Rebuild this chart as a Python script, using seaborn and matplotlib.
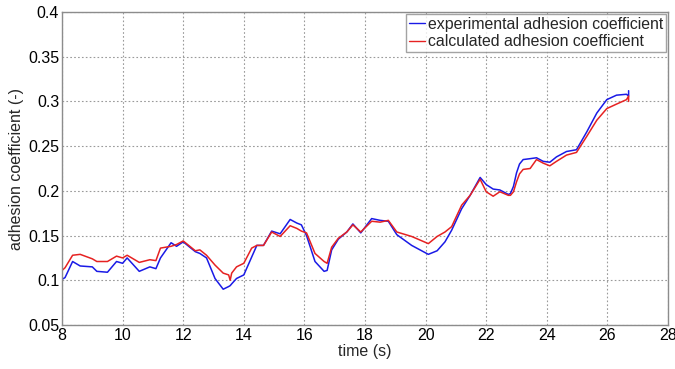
import numpy as np
import pandas as pd
import matplotlib
matplotlib.use("Agg")
import matplotlib.pyplot as plt
import seaborn as sns
from matplotlib.ticker import FuncFormatter

# Time samples (s)
time_s = [8.0, 8.1, 8.35, 8.6, 9.0, 9.15, 9.5, 9.8, 10.0, 10.15, 10.55, 10.9,
          11.1, 11.25, 11.6, 11.78, 12.0, 12.4, 12.55, 12.77, 13.05, 13.32,
          13.5, 13.55, 13.6, 13.76, 14.0, 14.26, 14.43, 14.65, 14.92, 15.2,
          15.53, 15.75, 15.9, 16.07, 16.35, 16.65, 16.75, 16.9, 17.12, 17.4,
          17.6, 17.86, 18.22, 18.5, 18.77, 19.05, 19.54, 20.09, 20.38, 20.64,
          20.86, 21.19, 21.47, 21.8, 22.0, 22.23, 22.45, 22.73, 22.8, 22.9,
          23.0, 23.1, 23.22, 23.45, 23.66, 23.88, 24.1, 24.32, 24.65, 24.98,
          25.32, 25.65, 25.98, 26.3, 26.63, 26.7, 26.7]

# Measured adhesion coefficient
experimental = [0.101, 0.103, 0.121, 0.116, 0.115, 0.110, 0.109, 0.121, 0.119,
                0.125, 0.110, 0.115, 0.113, 0.125, 0.142, 0.138, 0.143, 0.132,
                0.130, 0.125, 0.102, 0.090, 0.093, 0.094, 0.096, 0.102, 0.106,
                0.126, 0.139, 0.139, 0.155, 0.152, 0.168, 0.164, 0.162, 0.150,
                0.121, 0.110, 0.111, 0.134, 0.146, 0.154, 0.163, 0.153, 0.169,
                0.167, 0.166, 0.151, 0.139, 0.129, 0.133, 0.143, 0.156, 0.180,
                0.195, 0.215, 0.207, 0.202, 0.201, 0.196, 0.197, 0.205, 0.220,
                0.230, 0.235, 0.236, 0.237, 0.233, 0.232, 0.238, 0.244, 0.246,
                0.266, 0.287, 0.302, 0.307, 0.308, 0.306, 0.312]

# Model-calculated adhesion coefficient
calculated = [0.111, 0.114, 0.128, 0.129, 0.124, 0.121, 0.121, 0.127, 0.125,
              0.128, 0.120, 0.123, 0.122, 0.136, 0.138, 0.140, 0.144, 0.133,
              0.134, 0.128, 0.117, 0.108, 0.106, 0.100, 0.108, 0.115, 0.119,
              0.136, 0.139, 0.139, 0.154, 0.149, 0.161, 0.158, 0.155, 0.153,
              0.130, 0.121, 0.119, 0.137, 0.147, 0.154, 0.162, 0.154, 0.166,
              0.165, 0.167, 0.154, 0.149, 0.141, 0.149, 0.154, 0.160, 0.184,
              0.195, 0.213, 0.199, 0.194, 0.199, 0.195, 0.195, 0.199, 0.210,
              0.219, 0.224, 0.225, 0.235, 0.231, 0.228, 0.233, 0.240, 0.243,
              0.261, 0.279, 0.292, 0.297, 0.302, 0.306, 0.300]

series_names = ["experimental adhesion coefficient",
                "calculated adhesion coefficient"]
x_ticks = [8, 10, 12, 14, 16, 18, 20, 22, 24, 26, 28]
y_ticks = [0.05, 0.1, 0.15, 0.2, 0.25, 0.3, 0.35, 0.4]

df = pd.concat([
    pd.DataFrame({"time": time_s, "value": experimental, "series": series_names[0]}),
    pd.DataFrame({"time": time_s, "value": calculated, "series": series_names[1]}),
], ignore_index=True)

sns.set_theme(style="white")
plt.rcParams["font.family"] = ["Liberation Sans", "DejaVu Sans"]

fig = plt.figure(figsize=(6.75, 3.69), dpi=100)
ax = fig.add_axes([62 / 675, 1 - 325 / 369, 606 / 675, 313 / 369])

palette = {series_names[0]: "#1a1ae6", series_names[1]: "#e62222"}
sns.lineplot(data=df, x="time", y="value", hue="series", palette=palette,
             sort=False, estimator=None, linewidth=1.1, ax=ax, legend=False)

ax.set_xlim(8, 28)
ax.set_ylim(0.05, 0.4)
ax.set_xticks(x_ticks)
ax.set_yticks(y_ticks)
ax.yaxis.set_major_formatter(FuncFormatter(lambda v, p: f"{v:g}"))
ax.tick_params(axis="both", labelsize=11.5, length=0, pad=2, colors="black")
ax.grid(True, color="#9a9a9a", linestyle=(0, (1.5, 2)), linewidth=0.8)
for sp in ax.spines.values():
    sp.set_color("#8c8c8c")
    sp.set_linewidth(1.0)

ax.set_xlabel("time (s)", fontsize=11.5, labelpad=1)
ax.set_ylabel("adhesion coefficient (-)", fontsize=11.5, labelpad=3)

handles = [plt.Line2D([], [], color=palette[n], linewidth=1.0) for n in series_names]
leg = ax.legend(handles, series_names, loc="upper right", fontsize=11.4,
                frameon=True, fancybox=False, handlelength=1.0,
                handletextpad=0.2, borderaxespad=0.1, borderpad=0.2,
                labelspacing=0.15)
leg.get_frame().set_edgecolor("#8c8c8c")
leg.get_frame().set_linewidth(1.0)

fig.savefig("out.png", dpi=100)
